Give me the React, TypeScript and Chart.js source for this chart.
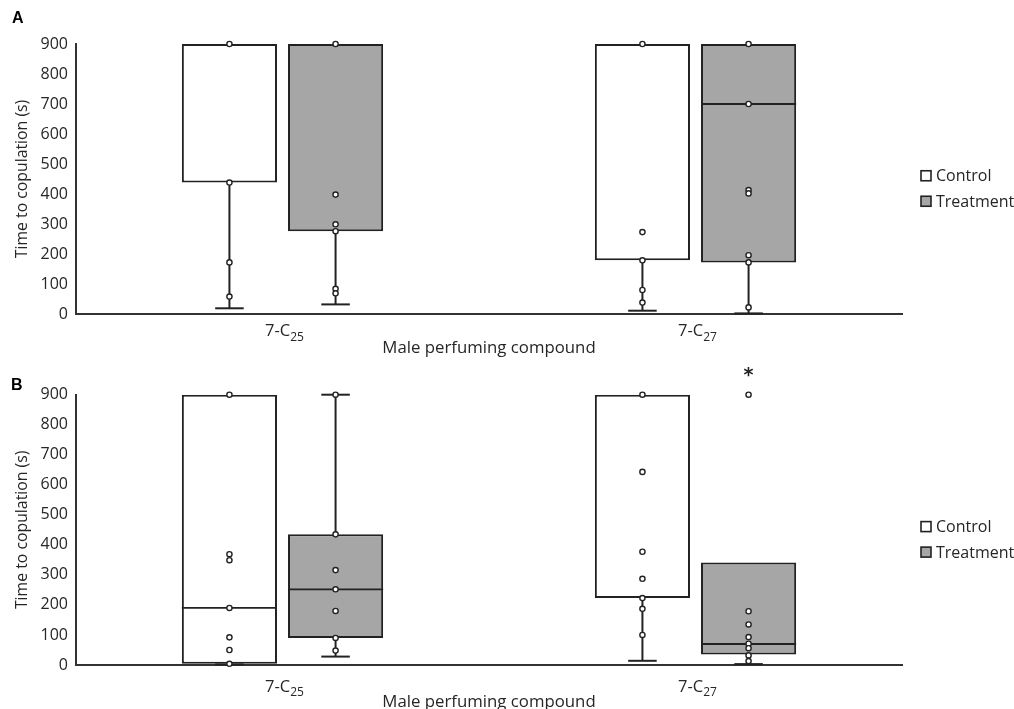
import React, { useEffect, useRef } from "react";
import { Chart, registerables } from "chart.js";
Chart.register(...registerables);

// ---------- data ----------
const categoryBase = ["7-C", "7-C"];
const categorySub = ["25", "27"];
const seriesNames = ["Control", "Treatment"];
const yMin = 0;
const yMax = 900;
const yStep = 100;
const yTitle = "Time to copulation (s)";
const xTitle = "Male perfuming compound";
const panelLetters = ["A", "B"];

// Panel A – Control
const ctrlA_min = [19, 11];
const ctrlA_q1 = [438, 179];
const ctrlA_med = [900, 900];
const ctrlA_q3 = [900, 900];
const ctrlA_max = [900, 900];
const ctrlA_pts = [
  [900, 438, 172, 58],
  [900, 273, 179, 80, 38],
];
// Panel A – Treatment
const trtA_min = [32, 2];
const trtA_q1 = [276, 172];
const trtA_med = [900, 700];
const trtA_q3 = [900, 900];
const trtA_max = [900, 900];
const trtA_pts = [
  [900, 398, 299, 276, 84, 69],
  [900, 700, 413, 402, 196, 172, 22],
];
const trtA_marks = ["", ""];

// Panel B – Control
const ctrlB_min = [2, 14];
const ctrlB_q1 = [4, 223];
const ctrlB_med = [190, 900];
const ctrlB_q3 = [900, 900];
const ctrlB_max = [900, 900];
const ctrlB_pts = [
  [900, 369, 349, 190, 92, 50, 4],
  [900, 643, 377, 287, 223, 187, 100],
];
// Panel B – Treatment
const trtB_min = [28, 3];
const trtB_q1 = [90, 35];
const trtB_med = [252, 70];
const trtB_q3 = [435, 341];
const trtB_max = [900, 341];
const trtB_pts = [
  [900, 435, 316, 252, 180, 90, 48],
  [900, 179, 135, 93, 71, 56, 32, 13],
];
const trtB_marks = ["", "*"];

// ---------- styles ----------
const INK = "#222222";
const TEXT = "#262626";
const FONT = "'Open Sans', 'Noto Sans', sans-serif";
const CTRL_FILL = "#ffffff";
const TRT_FILL = "#a6a6a6";

type Stats = {
  min: number[];
  q1: number[];
  med: number[];
  q3: number[];
  max: number[];
  pts: number[][];
  marks?: string[];
};

function makeDataset(label: string, fill: string, s: Stats) {
  return {
    label,
    data: s.q1.map((v, i) => [v, s.q3[i]]),
    backgroundColor: fill,
    borderColor: INK,
    borderWidth: 2,
    borderSkipped: false,
    stats: s,
  } as any;
}

const boxPlotPlugin = {
  id: "boxPlotExtras",
  afterDatasetsDraw(chart: any) {
    const ctx = chart.ctx;
    const yS = chart.scales.y;
    const py = (v: number) => yS.getPixelForValue(v);
    chart.data.datasets.forEach((ds: any, di: number) => {
      const st: Stats = ds.stats;
      if (!st) return;
      const meta = chart.getDatasetMeta(di);
      meta.data.forEach((el: any, i: number) => {
        const { x, width } = el.getProps(["x", "width"], true);
        const capW = width * 0.3;
        ctx.save();
        ctx.strokeStyle = INK;
        ctx.lineWidth = 2;
        const whisker = (from: number, to: number) => {
          ctx.beginPath();
          ctx.moveTo(x, py(from));
          ctx.lineTo(x, py(to));
          ctx.stroke();
          ctx.beginPath();
          ctx.moveTo(x - capW / 2, py(to));
          ctx.lineTo(x + capW / 2, py(to));
          ctx.stroke();
        };
        if (st.max[i] > st.q3[i]) whisker(st.q3[i], st.max[i]);
        if (st.min[i] < st.q1[i]) whisker(st.q1[i], st.min[i]);
        // median line (skip when it coincides with a box edge)
        if (st.med[i] > st.q1[i] && st.med[i] < st.q3[i]) {
          ctx.lineWidth = 1.8;
          ctx.beginPath();
          ctx.moveTo(x - width / 2, py(st.med[i]));
          ctx.lineTo(x + width / 2, py(st.med[i]));
          ctx.stroke();
        }
        ctx.lineWidth = 1.4;
        ctx.fillStyle = "#ffffff";
        st.pts[i].forEach((v) => {
          ctx.beginPath();
          ctx.arc(x, py(v), 2.6, 0, Math.PI * 2);
          ctx.fill();
          ctx.stroke();
        });
        if (st.marks && st.marks[i]) {
          const top = Math.max(...st.pts[i]);
          ctx.fillStyle = INK;
          ctx.font = "bold 19px 'DejaVu Sans', sans-serif";
          ctx.textAlign = "center";
          ctx.textBaseline = "alphabetic";
          ctx.fillText(st.marks[i], x, py(top) - 14);
        }
        ctx.restore();
      });
    });
  },
};

const sideLegendPlugin = {
  id: "sideLegend",
  afterDraw(chart: any) {
    const { ctx, chartArea } = chart;
    const lx = chartArea.right + 19;
    const cy = (chartArea.top + chartArea.bottom) / 2 + 9.5;
    ctx.save();
    chart.data.datasets.forEach((ds: any, i: number) => {
      const yc = cy + (i - 0.5) * 25.5;
      ctx.fillStyle = ds.backgroundColor;
      ctx.strokeStyle = INK;
      ctx.lineWidth = 1.6;
      ctx.fillRect(lx, yc - 5, 10, 10);
      ctx.strokeRect(lx, yc - 5, 10, 10);
      ctx.fillStyle = TEXT;
      ctx.font = `16px ${FONT}`;
      ctx.textAlign = "left";
      ctx.textBaseline = "middle";
      ctx.fillText(ds.label, lx + 15, yc + 1);
    });
    ctx.restore();
  },
};

const catLabelPlugin = {
  id: "catLabels",
  afterDraw(chart: any, _args: any, opts: any) {
    const { ctx, chartArea } = chart;
    const xs = chart.scales.x;
    ctx.save();
    ctx.fillStyle = TEXT;
    ctx.textAlign = "left";
    ctx.textBaseline = "alphabetic";
    categoryBase.forEach((b, i) => {
      const sub = categorySub[i];
      const x = xs.getPixelForValue(i) + 2;
      const fb = `16.5px ${FONT}`;
      const fs = `12px ${FONT}`;
      ctx.font = fb;
      const wb = ctx.measureText(b).width;
      ctx.font = fs;
      const ws = ctx.measureText(sub).width;
      const left = x - (wb + ws) / 2;
      const base = chartArea.bottom + opts.baseOffset;
      ctx.font = fb;
      ctx.fillText(b, left, base);
      ctx.font = fs;
      ctx.fillText(sub, left + wb, base + 4.5);
    });
    if (opts.letter) {
      ctx.font = "bold 16px 'Liberation Sans', Arial, sans-serif";
      ctx.fillStyle = "#000";
      ctx.fillText(opts.letter, opts.letterX, opts.letterY);
    }
    ctx.restore();
  },
};

type Panel = {
  ctrl: Stats;
  trt: Stats;
  padTop: number;
  xHeight: number;
  baseOffset: number;
  titlePad: number;
  letter: string;
  letterX: number;
  letterY: number;
};

const panels: Panel[] = [
  {
    ctrl: { min: ctrlA_min, q1: ctrlA_q1, med: ctrlA_med, q3: ctrlA_q3, max: ctrlA_max, pts: ctrlA_pts },
    trt: { min: trtA_min, q1: trtA_q1, med: trtA_med, q3: trtA_q3, max: trtA_max, pts: trtA_pts, marks: trtA_marks },
    padTop: 44,
    xHeight: 56,
    baseOffset: 22,
    titlePad: 11.5,
    letter: panelLetters[0],
    letterX: 12,
    letterY: 23,
  },
  {
    ctrl: { min: ctrlB_min, q1: ctrlB_q1, med: ctrlB_med, q3: ctrlB_q3, max: ctrlB_max, pts: ctrlB_pts },
    trt: { min: trtB_min, q1: trtB_q1, med: trtB_med, q3: trtB_q3, max: trtB_max, pts: trtB_pts, marks: trtB_marks },
    padTop: 44.7,
    xHeight: 55,
    baseOffset: 26.5,
    titlePad: 7.7,
    letter: panelLetters[1],
    letterX: 11,
    letterY: 40,
  },
];

function makeConfig(p: Panel): any {
  return {
    type: "bar",
    data: {
      labels: categoryBase.map((b, i) => b + categorySub[i]),
      datasets: [makeDataset(seriesNames[0], CTRL_FILL, p.ctrl), makeDataset(seriesNames[1], TRT_FILL, p.trt)],
    },
    options: {
      animation: false,
      responsive: false,
      maintainAspectRatio: false,
      events: [],
      categoryPercentage: 0.514,
      barPercentage: 0.896,
      layout: { padding: { left: 0, right: 112, top: p.padTop, bottom: 0 } },
      scales: {
        x: {
          grid: { display: false, drawTicks: false },
          border: { display: true, color: "#333333", width: 2 },
          ticks: { display: false },
          title: {
            display: true,
            text: xTitle,
            color: TEXT,
            font: { family: FONT, size: 16.8 },
            padding: { top: 0, bottom: p.titlePad },
          },
          afterFit: (s: any) => {
            s.height = p.xHeight;
          },
        },
        y: {
          min: yMin,
          max: yMax,
          grid: { display: false, drawTicks: false },
          border: { display: true, color: "#333333", width: 2 },
          ticks: { stepSize: yStep, color: TEXT, padding: 8, font: { family: FONT, size: 16 } },
          title: {
            display: true,
            text: yTitle,
            color: TEXT,
            font: { family: FONT, size: 15.8 },
            padding: { top: 13.3, bottom: 0 },
          },
          afterFit: (s: any) => {
            s.width = 76;
          },
        },
      },
      plugins: {
        legend: { display: false },
        tooltip: { enabled: false },
        catLabels: { baseOffset: p.baseOffset, letter: p.letter, letterX: p.letterX, letterY: p.letterY },
      },
    },
    plugins: [boxPlotPlugin, sideLegendPlugin, catLabelPlugin],
  };
}

export default function App() {
  const refA = useRef<HTMLCanvasElement>(null);
  const refB = useRef<HTMLCanvasElement>(null);
  useEffect(() => {
    const canvases = [refA.current!, refB.current!];
    const charts = panels.map((p, k) => new Chart(canvases[k], makeConfig(p)));
    return () => charts.forEach((c) => c.destroy());
  }, []);
  return (
    <div
      style={{
        position: "fixed",
        left: 0,
        top: 0,
        width: 1014,
        height: 709,
        overflow: "hidden",
        background: "#ffffff",
      }}
    >
      <canvas ref={refA} width={1014} height={370} style={{ position: "absolute", left: 0, top: 0 }} />
      <canvas ref={refB} width={1014} height={370} style={{ position: "absolute", left: 0, top: 350 }} />
    </div>
  );
}
